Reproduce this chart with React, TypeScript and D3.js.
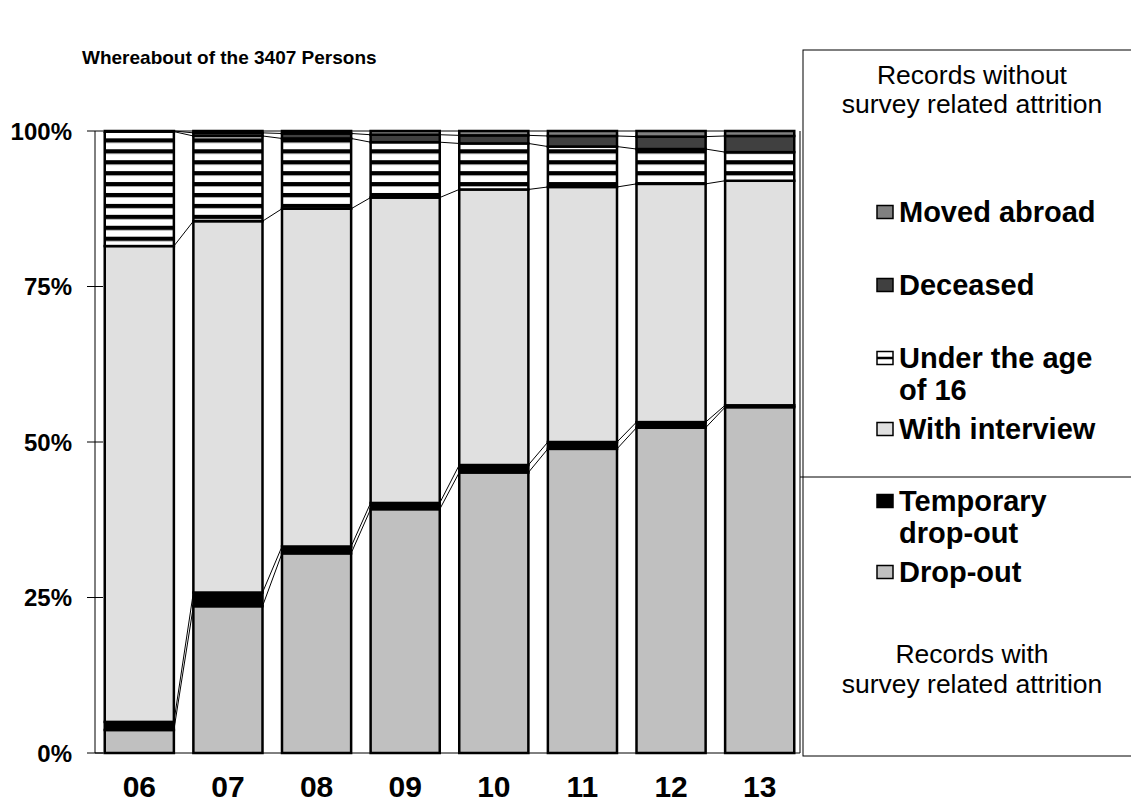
import React from "react";
import * as d3 from "d3";

const years = ["06", "07", "08", "09", "10", "11", "12", "13"];
const dropOut = [3.7, 23.6, 32.1, 39.2, 45.1, 48.9, 52.3, 55.6];
const tempDropOut = [1.3, 2.2, 1.1, 1.0, 1.2, 1.1, 0.9, 0.3];
const withInterview = [76.5, 59.7, 54.3, 49.1, 44.3, 41.0, 38.3, 36.1];
const under16 = [18.4, 13.7, 11.3, 8.9, 7.4, 6.5, 5.6, 4.6];
const deceased = [0.1, 0.5, 0.8, 1.2, 1.3, 1.7, 2.0, 2.6];
const movedAbroad = [0.0, 0.3, 0.4, 0.6, 0.7, 0.8, 0.9, 0.8];
const yTicks = [0, 25, 50, 75, 100];

const keys = ["dropOut", "temp", "interview", "under16", "deceased", "moved"];
const fills: Record<string, string> = {
  dropOut: "#c0c0c0",
  temp: "#000000",
  interview: "#e0e0e0",
  under16: "url(#stripes)",
  deceased: "#404040",
  moved: "#808080",
};

const legendItems = [
  { key: "moved", lines: ["Moved abroad"], y: 212 },
  { key: "deceased", lines: ["Deceased"], y: 285 },
  { key: "under16", lines: ["Under the age", "of 16"], y: 358 },
  { key: "interview", lines: ["With interview"], y: 429 },
  { key: "temp", lines: ["Temporary", "drop-out"], y: 501 },
  { key: "dropOut", lines: ["Drop-out"], y: 572 },
];

const font = "'Liberation Sans', Arial, sans-serif";

export default function App() {
  const rows = years.map((yr, i) => ({
    year: yr,
    dropOut: dropOut[i],
    temp: tempDropOut[i],
    interview: withInterview[i],
    under16: under16[i],
    deceased: deceased[i],
    moved: movedAbroad[i],
  }));

  const x = d3
    .scaleBand()
    .domain(years)
    .range([95, 804])
    .paddingInner(0.22)
    .paddingOuter(0.11);
  const y = d3.scaleLinear().domain([0, 100]).range([753, 131]);

  const series = d3.stack<any>().keys(keys)(rows);
  const bw = x.bandwidth();

  return (
    <div style={{ position: "absolute", left: 0, top: 0 }}>
      <svg width={1131} height={805} style={{ display: "block", background: "#fff" }}>
        <defs>
          <pattern
            id="stripes"
            patternUnits="userSpaceOnUse"
            x={0}
            y={127.4}
            width={20}
            height={10.93}
          >
            <rect width={20} height={10.93} fill="#fff" />
            <rect y={0} width={20} height={4.3} fill="#000" />
          </pattern>
        </defs>

        {/* title */}
        <text x={82} y={64} fontFamily={font} fontWeight="bold" fontSize={19}>
          Whereabout of the 3407 Persons
        </text>

        {/* series lines between bars */}
        {series.map((s) =>
          s.slice(0, -1).map((d, i) => (
            <line
              key={s.key + "-sl-" + i}
              x1={x(years[i])! + bw}
              x2={x(years[i + 1])!}
              y1={y(d[1])}
              y2={y(s[i + 1][1])}
              stroke="#000"
              strokeWidth={1}
            />
          ))
        )}

        {/* bars */}
        {series.map((s) => (
          <g key={s.key} fill={fills[s.key]}>
            {s.map((d, i) => (
              <rect
                key={i}
                x={x(years[i])}
                y={y(d[1])}
                width={bw}
                height={y(d[0]) - y(d[1])}
                stroke="#000"
                strokeWidth={2.5}
              />
            ))}
          </g>
        ))}

        {/* axes */}
        <line x1={95} x2={95} y1={131} y2={753} stroke="#000" />
        <line x1={95} x2={800} y1={753} y2={753} stroke="#000" />
        <line x1={800} x2={800} y1={131} y2={753} stroke="#000" />
        {yTicks.map((t) => (
          <g key={t}>
            <line x1={87} x2={103} y1={y(t)} y2={y(t)} stroke="#000" />
            <text
              x={72}
              y={y(t)}
              textAnchor="end"
              dominantBaseline="central"
              fontFamily={font}
              fontWeight="bold"
              fontSize={24}
            >
              {t}%
            </text>
          </g>
        ))}
        {years.map((yr) => (
          <text
            key={yr}
            x={x(yr)! + bw / 2}
            y={797}
            textAnchor="middle"
            fontFamily={font}
            fontWeight="bold"
            fontSize={30}
          >
            {yr}
          </text>
        ))}

        {/* legend box */}
        <rect x={803} y={50} width={340} height={706} fill="none" stroke="#000" />
        <line x1={800} x2={1131} y1={477} y2={477} stroke="#000" />
        <text x={972} textAnchor="middle" fontFamily={font} fontSize={26.5}>
          <tspan x={972} y={84}>Records without</tspan>
          <tspan x={972} y={113}>survey related attrition</tspan>
        </text>
        <text x={972} textAnchor="middle" fontFamily={font} fontSize={26.5}>
          <tspan x={972} y={663}>Records with</tspan>
          <tspan x={972} y={693}>survey related attrition</tspan>
        </text>
        {legendItems.map((it) => (
          <g key={it.key}>
            <rect
              x={877}
              y={it.y - 6.5}
              width={16}
              height={13}
              fill={it.key === "under16" ? "#fff" : fills[it.key]}
              stroke="#000"
              strokeWidth={1.5}
            />
            {it.key === "under16" && (
              <line x1={877} x2={893} y1={it.y} y2={it.y} stroke="#000" strokeWidth={2.5} />
            )}
            <text fontFamily={font} fontWeight="bold" fontSize={29}>
              {it.lines.map((ln, j) => (
                <tspan key={j} x={899} y={it.y + 10 + j * 32}>
                  {ln}
                </tspan>
              ))}
            </text>
          </g>
        ))}
      </svg>
    </div>
  );
}
